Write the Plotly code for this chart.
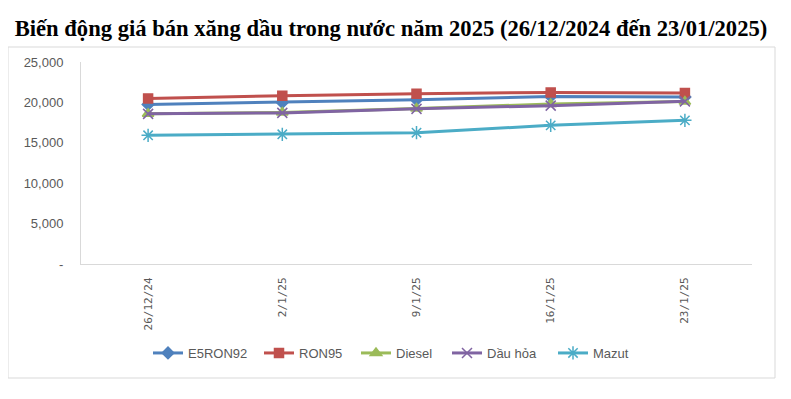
import plotly.graph_objects as go

dates = ["26/12/24", "2/1/25", "9/1/25", "16/1/25", "23/1/25"]
e5ron92 = [19750, 20000, 20330, 20740, 20660]
ron95 = [20490, 20830, 21070, 21230, 21150]
diesel = [18600, 18750, 19250, 19800, 20100]
dau_hoa = [18580, 18700, 19200, 19600, 20130]
mazut = [15930, 16050, 16250, 17160, 17780]

y_tickvals = [0, 5000, 10000, 15000, 20000, 25000]
y_ticktext = ["-", "5,000", "10,000", "15,000", "20,000", "25,000"]

series = [
    ("E5RON92", e5ron92, "#4F81BD", "diamond", 9),
    ("RON95", ron95, "#C0504D", "square", 9),
    ("Diesel", diesel, "#9BBB59", "triangle-up", 10),
    ("Dầu hỏa", dau_hoa, "#8064A2", "x-thin-open", 10),
    ("Mazut", mazut, "#4BACC6", "asterisk-open", 11),
]

# page offset (browser body margin)
OFF = 8
W, H = 791 - OFF, 399 - OFF
L, R, T, B = 81 - OFF, 752 - OFF, 62 - OFF, 264 - OFF
pw, ph = R - L, B - T

def px_x(p):
    return (p - OFF - L) / pw

def px_y(p):
    return (B - (p - OFF)) / ph

legend_starts = [153, 264, 361, 452, 558]
legend_names = ["legend", "legend2", "legend3", "legend4", "legend5"]

fig = go.Figure()
for i, (name, vals, color, sym, size) in enumerate(series):
    fig.add_trace(go.Scatter(
        x=dates, y=vals, name=name, mode="lines+markers",
        line=dict(color=color, width=3),
        marker=dict(symbol=sym, size=size, color=color,
                    line=dict(color=color, width=1.5)),
        legend=legend_names[i],
    ))

fig.add_shape(type="rect", xref="paper", yref="paper",
              x0=px_x(8), x1=px_x(775), y0=px_y(378), y1=px_y(47),
              line=dict(color="#D9D9D9", width=1), fillcolor="rgba(0,0,0,0)",
              layer="below")

leg_font = dict(family="Liberation Sans", size=13, color="#595959")
legends = {}
for i, ln in enumerate(legend_names):
    legends[ln] = dict(
        orientation="h", x=px_x(legend_starts[i] - 5), xanchor="left",
        y=px_y(353), yanchor="middle", font=leg_font,
        bgcolor="rgba(0,0,0,0)", borderwidth=0, itemwidth=30,
    )

fig.update_layout(
    width=W, height=H,
    margin=dict(l=L, r=W - R, t=T, b=H - B),
    paper_bgcolor="white", plot_bgcolor="white",
    title=dict(
        text="Biến động giá bán xăng dầu trong nước năm 2025 (26/12/2024 đến 23/01/2025)",
        font=dict(family="Liberation Serif", size=22.6, color="black", weight="bold"),
        x=(391 - OFF) / W, xanchor="center", xref="container",
        y=1 - (28 - OFF) / H, yanchor="middle", yref="container",
    ),
    xaxis=dict(
        type="category", range=[-0.5, 4.5],
        showgrid=False, showline=True, linecolor="#D9D9D9", linewidth=1,
        ticks="", tickangle=-90, ticklabelstandoff=8,
        tickfont=dict(family="DejaVu Sans Mono", size=11, color="#595959"),
        zeroline=False,
    ),
    yaxis=dict(
        range=[0, 25000], tickvals=y_tickvals, ticktext=y_ticktext,
        showgrid=False, showline=True, linecolor="#D9D9D9", linewidth=1,
        ticks="", zeroline=False,
        tickfont=dict(family="Liberation Sans", size=13, color="#595959"),
        ticklabelstandoff=14,
    ),
    showlegend=True,
    **legends,
)

fig.write_html("out.html")
